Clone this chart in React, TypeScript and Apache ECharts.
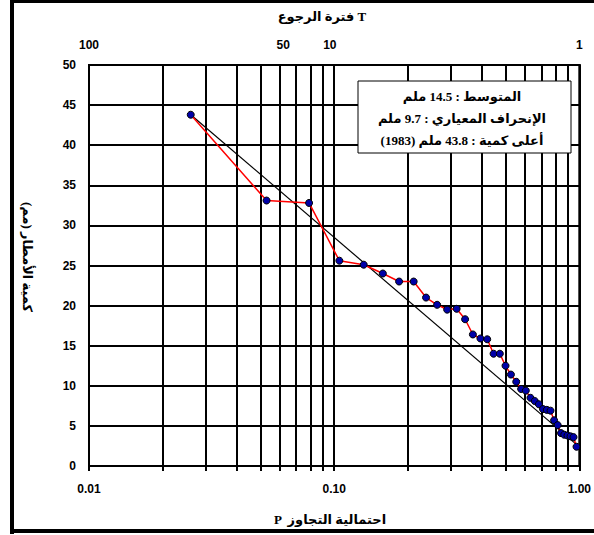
import React, { useEffect, useRef } from 'react';
import * as echarts from 'echarts';

// Exceedance probability P of each ranked yearly maximum
const exceedanceP = [
  0.026, 0.053, 0.079, 0.105, 0.132, 0.158, 0.184, 0.211, 0.237, 0.263,
  0.289, 0.316, 0.342, 0.368, 0.395, 0.421, 0.447, 0.474, 0.5, 0.526,
  0.553, 0.579, 0.605, 0.632, 0.658, 0.684, 0.711, 0.737, 0.763, 0.789,
  0.816, 0.842, 0.868, 0.895, 0.921, 0.947, 0.974,
];
// Rainfall amount (mm)
const rainfall = [
  43.8, 33.1, 32.8, 25.6, 25.1, 24.0, 23.0, 23.0, 21.0, 20.1,
  19.5, 19.6, 18.3, 16.4, 15.9, 15.8, 14.0, 14.0, 12.5, 11.4,
  10.5, 9.6, 9.4, 8.5, 8.1, 7.7, 7.1, 7.0, 6.9, 5.7,
  5.1, 4.1, 3.9, 3.8, 3.7, 3.6, 2.4,
];
// Fitted straight line end points
const fitP = [0.026, 0.98];
const fitRain = [43.8, 2.6];

// Top axis (return period T) labels and where they sit on the P scale
const topLabelP = [0.01, 0.062, 0.096, 1];
const topLabelT = ['100', '50', '10', '1'];

const RLM = '\u200F';
const statLines = [
  'المتوسط : 14.5 ملم',
  'الإنحراف المعياري : 9.7 ملم',
  'أعلى كمية : 43.8 ملم (1983)',
];
const topTitle = 'فترة الرجوع T';
const bottomTitle = 'P  احتمالية التجاوز';
const yTitle = 'كمية الأمطار (مم)';

const numFont = '"Liberation Sans", Arial, sans-serif';
const arFont = '"Liberation Serif", "DejaVu Sans", serif';

export default function App() {
  const ref = useRef<HTMLDivElement>(null);
  useEffect(() => {
    const chart = echarts.init(ref.current!, undefined, { renderer: 'svg' });
    const topPos = topLabelP.map((p) => Math.log10(p));
    const gridLine = { color: '#000', width: 2 };
    chart.setOption({
      animation: false,
      backgroundColor: '#fff',
      grid: { left: 89, top: 65, width: 492, height: 401, show: true, borderColor: '#000', borderWidth: 2 },
      xAxis: [
        {
          type: 'log',
          logBase: 10,
          min: 0.01,
          max: 1,
          position: 'bottom',
          axisLine: { show: true, onZero: false, lineStyle: { color: '#000', width: 2 } },
          axisTick: { show: true, inside: false, length: 5, lineStyle: { color: '#000', width: 2 } },
          minorTick: { show: true, splitNumber: 9, length: 5, lineStyle: { color: '#000', width: 2 } },
          splitLine: { show: true, lineStyle: gridLine },
          minorSplitLine: { show: true, lineStyle: gridLine },
          axisLabel: {
            formatter: (v: number) => v.toFixed(2),
            margin: 17,
            fontSize: 12,
            fontWeight: 'bold',
            color: '#000',
            fontFamily: numFont,
          },
        },
        {
          type: 'value',
          min: -2,
          max: 0,
          position: 'top',
          axisLine: { show: false },
          axisTick: { show: false },
          splitLine: { show: false },
          axisLabel: {
            customValues: topPos,
            formatter: (v: number) => {
              const i = topPos.findIndex((p) => Math.abs(p - v) < 1e-6);
              return i >= 0 ? topLabelT[i] : '';
            },
            margin: 14,
            fontSize: 12,
            fontWeight: 'bold',
            color: '#000',
            fontFamily: numFont,
          },
        },
      ],
      yAxis: {
        type: 'value',
        min: 0,
        max: 50,
        interval: 5,
        axisLine: { show: true, lineStyle: { color: '#000', width: 2 } },
        axisTick: { show: true, length: 5, lineStyle: { color: '#000', width: 2 } },
        splitLine: { show: true, lineStyle: gridLine },
        axisLabel: { margin: 13, fontSize: 12, fontWeight: 'bold', color: '#000', fontFamily: numFont },
      },
      series: [
        {
          type: 'line',
          xAxisIndex: 0,
          data: fitP.map((p, i) => [p, fitRain[i]]),
          symbol: 'none',
          lineStyle: { color: '#000', width: 1.2 },
          silent: true,
          z: 3,
        },
        {
          type: 'line',
          xAxisIndex: 0,
          data: exceedanceP.map((p, i) => [p, rainfall[i]]),
          symbol: 'circle',
          symbolSize: 7,
          itemStyle: { color: '#0000a8', borderColor: '#000', borderWidth: 1 },
          lineStyle: { color: '#ff0000', width: 1.5 },
          z: 4,
        },
      ],
      graphic: [
        { type: 'rect', shape: { x: 10, y: 0, width: 4, height: 534 }, style: { fill: '#000' }, z: 100 },
        { type: 'rect', shape: { x: 10, y: 0, width: 584, height: 3 }, style: { fill: '#000' }, z: 100 },
        { type: 'rect', shape: { x: 10, y: 529, width: 584, height: 4 }, style: { fill: '#000' }, z: 100 },
        {
          type: 'rect',
          shape: { x: 358, y: 81, width: 213, height: 72 },
          style: { fill: '#fff', stroke: '#000', lineWidth: 1 },
          z: 100,
        },
        ...statLines.map((t, i) => ({
          type: 'text',
          x: 462,
          y: 96 + i * 22,
          style: {
            text: RLM + t + RLM,
            fill: '#000',
            font: `bold 13px ${arFont}`,
            align: 'center',
            verticalAlign: 'middle',
          },
          z: 101,
        })),
        {
          type: 'text',
          x: 322,
          y: 16,
          style: { text: topTitle, fill: '#000', font: `bold 13px ${arFont}`, align: 'center', verticalAlign: 'middle' },
          z: 101,
        },
        {
          type: 'text',
          x: 330,
          y: 519,
          style: { text: bottomTitle, fill: '#000', font: `bold 13px ${arFont}`, align: 'center', verticalAlign: 'middle' },
          z: 101,
        },
        {
          type: 'text',
          x: 27,
          y: 257,
          rotation: -Math.PI / 2,
          style: { text: RLM + yTitle + RLM, fill: '#000', font: `bold 13px ${arFont}`, align: 'center', verticalAlign: 'middle' },
          z: 101,
        },
      ],
    });
    return () => chart.dispose();
  }, []);
  return (
    <div
      ref={ref}
      style={{ position: 'fixed', left: 0, top: 0, width: 594, height: 535, background: '#fff' }}
    />
  );
}
